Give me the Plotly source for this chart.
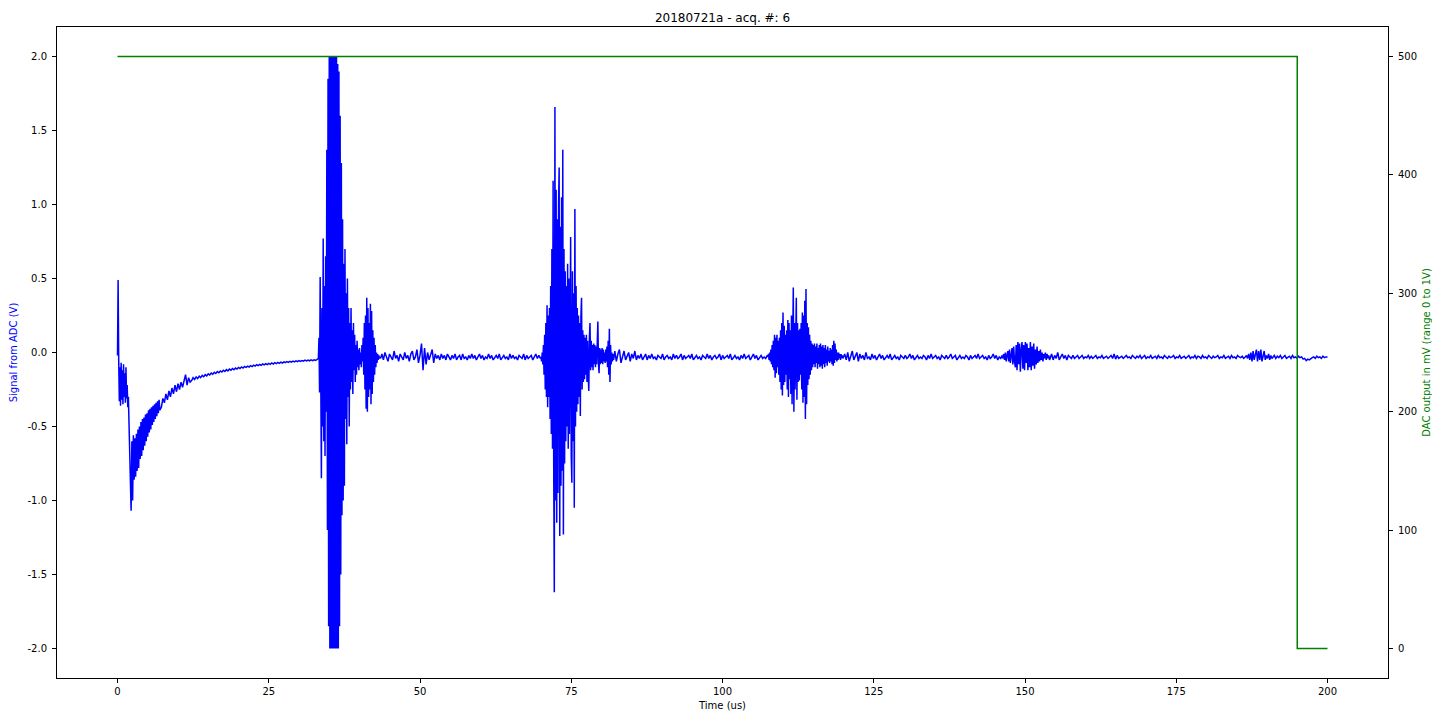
import numpy as np
import plotly.graph_objects as go

title_text = "20180721a - acq. #: 6"
x_ticks = [0, 25, 50, 75, 100, 125, 150, 175, 200]
adc_ticks = [-2.0, -1.5, -1.0, -0.5, 0.0, 0.5, 1.0, 1.5, 2.0]
dac_ticks = [0, 100, 200, 300, 400, 500]

# DAC output (mV)
dac_time = [0, 195, 195, 200]
dac_mv = [500, 500, 0, 0]

# ADC signal (V);
# samples are evenly spaced inside each (start, end) span in microseconds.
span_pulse = (0.0, 1.9)
adc_pulse = [-0.02, 0.49, -0.05, -0.33, -0.10, -0.36, -0.07, -0.32, -0.12, -0.35,
             -0.08, -0.30, -0.14, -0.34, -0.10, -0.31, -0.22, -0.37, -0.30, -0.45]

span_dip = (2.0, 7.0)
adc_dip = [-0.62, -0.80, -1.07, -0.60, -1.00, -0.56, -0.86, -0.58, -0.84, -0.55,
           -0.80, -0.52, -0.78, -0.50, -0.72, -0.47, -0.70, -0.45, -0.66, -0.44,
           -0.63, -0.42, -0.60, -0.41, -0.57, -0.39, -0.54, -0.38, -0.52, -0.37,
           -0.49, -0.36, -0.47, -0.35, -0.45, -0.34, -0.43, -0.33, -0.41, -0.32, -0.39]

span_recovery = (7.25, 12.0)
adc_recovery = [-0.37, -0.31, -0.34, -0.28, -0.32, -0.26, -0.30, -0.24, -0.28, -0.22,
                -0.265, -0.21, -0.25, -0.20, -0.235, -0.19, -0.15, -0.22, -0.17, -0.20]

span_settle = (12.25, 33.0)
adc_settle = [-0.190, -0.170, -0.182, -0.165, -0.176, -0.160, -0.170, -0.155, -0.164, -0.150,
              -0.158, -0.144, -0.152, -0.139, -0.147, -0.134, -0.142, -0.129, -0.137, -0.125,
              -0.132, -0.120, -0.128, -0.116, -0.124, -0.112, -0.120, -0.108, -0.116, -0.105,
              -0.112, -0.101, -0.108, -0.098, -0.105, -0.095, -0.101, -0.092, -0.098, -0.089,
              -0.095, -0.086, -0.092, -0.083, -0.089, -0.081, -0.087, -0.078, -0.084, -0.076,
              -0.082, -0.074, -0.080, -0.071, -0.078, -0.069, -0.075, -0.067, -0.073, -0.065,
              -0.071, -0.063, -0.069, -0.061, -0.067, -0.060, -0.065, -0.058, -0.063, -0.056,
              -0.062, -0.055, -0.060, -0.054, -0.059, -0.052, -0.057, -0.051, -0.056, -0.050,
              -0.055, -0.049, -0.053, -0.047]

span_echo1 = (33.2, 43.5)
adc_echo1 = [-0.04, 0.10, -0.27, 0.51, -0.20, -0.85, 0.30, -0.50, 0.77, -0.60,
             0.45, -0.70, 0.65, -0.40, 1.37, -1.20, 1.85, -1.85, 2.00, -2.00,
             2.00, -2.00, 2.00, -2.00, 2.00, -2.00, 2.00, -2.00, 2.00, -2.00,
             2.00, -2.00, 1.95, -2.00, 1.90, -1.85, 1.60, -1.50, 1.28, -1.10,
             0.90, -1.00, 0.60, -0.90, 0.70, -0.45, 0.40, -0.62, 0.50, -0.30,
             0.30, -0.50, 0.20, -0.25, 0.30, -0.20, 0.15, -0.28, 0.20, -0.12,
             0.12, -0.20, 0.05, -0.15, 0.08, -0.10, 0.02, -0.12, 0.03, -0.08,
             0.00, -0.10, 0.05, -0.06, 0.10, -0.15, 0.20, -0.25, 0.25, -0.38,
             0.37, -0.40, 0.30, -0.30, 0.20, -0.25, 0.33, -0.35, 0.28, -0.28,
             0.15, -0.20, 0.10, -0.15, 0.05, -0.10, 0.00, -0.07, -0.01, -0.05,
             -0.02, -0.04, -0.03, -0.04]

span_quiet1 = (43.7, 69.9)
adc_quiet1 = [-0.01, -0.05, 0.00, -0.04, -0.06, -0.01, -0.03, -0.05, 0.01, -0.04,
              -0.02, -0.06, -0.01, -0.03, -0.05, 0.00, -0.04, -0.02, -0.06, -0.01,
              0.01, -0.05, -0.03, 0.02, -0.07, -0.02, 0.06, -0.12, 0.03, -0.08,
              0.00, -0.05, -0.02, 0.02, -0.07, -0.01, -0.04, -0.02, -0.05, -0.01,
              -0.04, -0.02, -0.05, -0.01, -0.03, -0.05, -0.02, -0.04, -0.01, -0.05,
              -0.03, -0.02, -0.05, -0.01, -0.04, -0.03, -0.05, -0.02, -0.04, -0.01,
              -0.04, -0.02, -0.05, -0.03, -0.01, -0.04, -0.02, -0.05, -0.03, -0.04,
              -0.01, -0.04, -0.02, -0.05, -0.03, -0.02, -0.04, -0.01, -0.05, -0.03,
              -0.02, -0.04, -0.03, -0.05, -0.01, -0.04, -0.02, -0.04, -0.03, -0.05,
              -0.02, -0.03, -0.04, -0.01, -0.05, -0.02, -0.04, -0.03, -0.02, -0.05,
              -0.03, -0.01, -0.04, -0.02, -0.04]

span_echo2 = (70.0, 82.0)
adc_echo2 = [-0.03, -0.06, 0.00, -0.08, 0.05, -0.15, 0.12, -0.25, 0.20, -0.30,
             0.32, -0.37, 0.25, -0.30, 0.30, -0.45, 0.45, -0.55, 0.70, -0.65,
             1.16, -0.76, -1.62, 1.66, -1.00, 1.10, -1.15, 0.90, -0.95, 1.00,
             1.25, -1.24, 0.85, -0.90, 1.05, -0.80, 1.37, -1.23, 0.70, -0.75,
             0.55, -0.60, 0.45, -0.50, 0.60, -0.65, 0.50, -0.55, 0.60, 0.78,
             -0.70, -0.88, 0.55, -0.60, 0.40, -1.05, 0.97, -0.50, 0.45, -0.40,
             0.30, -0.35, 0.25, -0.30, 0.20, -0.43, 0.25, 0.37, -0.25, 0.15,
             -0.20, 0.12, -0.18, 0.10, -0.15, 0.12, -0.20, 0.08, -0.15, -0.26,
             0.10, 0.20, -0.12, 0.08, -0.10, 0.05, -0.12, 0.06, -0.08, 0.05,
             -0.10, 0.04, -0.08, 0.10, 0.21, -0.08, -0.14, 0.03, -0.08, 0.02,
             -0.07, 0.03, -0.08, 0.02, -0.06, 0.00, -0.07, 0.02, -0.06, 0.04,
             -0.10, 0.08, -0.15, 0.16, -0.20, 0.05, -0.08, 0.00, -0.06, -0.01,
             -0.05]

span_quiet2 = (82.2, 107.4)
adc_quiet2 = [0.01, -0.06, -0.01, 0.02, -0.07, -0.02, 0.01, -0.05, -0.03, 0.00,
              -0.06, -0.01, -0.04, 0.01, -0.05, -0.02, -0.04, -0.01, -0.05, -0.03,
              -0.01, -0.05, -0.02, -0.04, -0.01, -0.04, -0.03, -0.05, -0.02, -0.03,
              -0.04, -0.01, -0.05, -0.03, -0.02, -0.04, -0.03, -0.05, -0.01, -0.04,
              -0.02, -0.04, -0.03, -0.01, -0.05, -0.02, -0.04, -0.03, -0.02, -0.04,
              -0.01, -0.05, -0.03, -0.02, -0.04, -0.03, -0.05, -0.02, -0.03, -0.04,
              -0.01, -0.04, -0.02, -0.05, -0.03, -0.02, -0.04, -0.03, -0.01, -0.05,
              -0.02, -0.04, -0.03, -0.02, -0.04, -0.01, -0.05, -0.03, -0.02, -0.04,
              -0.03, -0.05, -0.02, -0.04, -0.01, -0.04, -0.03, -0.02, -0.05, -0.03,
              -0.01, -0.04, -0.02, -0.05, -0.03, -0.02, -0.04, -0.03, -0.04, -0.02]

span_echo3 = (107.5, 120.0)
adc_echo3 = [-0.03, -0.01, -0.05, 0.00, -0.06, 0.02, -0.08, 0.05, -0.10, 0.08,
             -0.12, 0.12, -0.17, 0.10, -0.14, 0.12, -0.10, 0.08, -0.15, 0.10,
             -0.20, 0.15, -0.25, 0.20, -0.29, 0.27, -0.22, 0.18, -0.20, 0.12,
             -0.15, 0.15, -0.25, 0.22, -0.30, 0.20, -0.18, 0.15, -0.28, 0.25,
             -0.35, 0.30, 0.44, -0.40, 0.20, -0.25, 0.25, 0.37, -0.32, 0.20,
             -0.20, 0.15, -0.19, 0.16, -0.15, 0.20, -0.25, 0.27, -0.34, 0.25,
             -0.30, 0.35, -0.45, 0.43, -0.35, 0.20, -0.22, 0.17, -0.18, 0.12,
             -0.15, 0.08, -0.12, 0.06, -0.10, 0.05, -0.08, 0.06, -0.10, 0.04,
             -0.07, 0.06, -0.11, 0.03, -0.08, 0.05, -0.10, 0.06, -0.09, 0.04,
             -0.11, 0.05, -0.08, 0.03, -0.10, 0.05, -0.07, 0.02, -0.09, 0.04,
             -0.06, 0.01, -0.07, 0.03, -0.06, 0.02, -0.08, 0.05, -0.09, 0.08,
             -0.07, 0.06, -0.05, 0.02, -0.06, 0.00, -0.05, 0.00, -0.04, -0.01,
             -0.05, -0.01, -0.04, -0.02, -0.04, -0.03]

span_quiet3 = (120.2, 146.0)
adc_quiet3 = [-0.01, -0.05, 0.00, -0.06, -0.02, 0.01, -0.05, -0.03, 0.00, -0.06,
              -0.01, -0.04, -0.02, -0.05, 0.00, -0.04, -0.03, -0.05, -0.01, -0.04,
              -0.02, -0.05, -0.03, -0.01, -0.04, -0.02, -0.05, -0.03, -0.02, -0.04,
              -0.01, -0.05, -0.03, -0.02, -0.04, -0.03, -0.05, -0.02, -0.03, -0.04,
              -0.02, -0.04, -0.03, -0.01, -0.04, -0.02, -0.05, -0.03, -0.02, -0.04,
              -0.03, -0.04, -0.02, -0.03, -0.05, -0.02, -0.04, -0.01, -0.04, -0.03,
              -0.02, -0.04, -0.03, -0.05, -0.02, -0.03, -0.04, -0.02, -0.04, -0.03,
              -0.01, -0.04, -0.03, -0.02, -0.05, -0.03, -0.02, -0.04, -0.03, -0.04,
              -0.02, -0.03, -0.05, -0.02, -0.04, -0.03, -0.02, -0.04, -0.01, -0.04,
              -0.03, -0.02, -0.04, -0.03, -0.05, -0.02, -0.04, -0.03, -0.01, -0.04,
              -0.02, -0.05, -0.03, -0.04]

span_echo4 = (146.2, 154.2)
adc_echo4 = [-0.02, -0.04, -0.01, -0.05, 0.00, -0.06, -0.02, 0.01, -0.06, 0.02,
             -0.07, 0.00, 0.03, -0.08, 0.04, -0.06, -0.10, 0.05, -0.12, 0.07,
             -0.08, 0.06, -0.13, 0.02, 0.07, -0.11, 0.05, -0.12, 0.07, -0.07,
             0.06, -0.12, 0.03, -0.10, 0.07, -0.12, 0.04, -0.09, 0.06, -0.11,
             0.02, -0.08, 0.04, -0.07, 0.01, -0.06, 0.02, -0.05, 0.00, -0.06,
             -0.01, -0.04, 0.00, -0.05, -0.01, -0.04, -0.02, -0.05, -0.03]

span_quiet4 = (154.4, 186.4)
adc_quiet4 = [-0.01, -0.05, -0.02, -0.04, 0.00, -0.05, -0.03, -0.01, -0.04, -0.02,
              -0.05, -0.02, -0.03, -0.04, -0.02, -0.04, -0.03, -0.02, -0.04, -0.03,
              -0.02, -0.04, -0.03, -0.035, -0.02, -0.04, -0.025, -0.04, -0.03, -0.02,
              -0.04, -0.03, -0.035, -0.02, -0.04, -0.03, -0.025, -0.04, -0.03, -0.02,
              -0.04, -0.01, -0.045, -0.02, -0.04, -0.03, -0.025, -0.04, -0.03, -0.02,
              -0.035, -0.03, -0.04, -0.02, -0.03, -0.04, -0.025, -0.035, -0.02, -0.04,
              -0.03, -0.02, -0.04, -0.03, -0.035, -0.02, -0.04, -0.03, -0.025, -0.04,
              -0.02, -0.035, -0.03, -0.04, -0.02, -0.03, -0.04, -0.025, -0.035, -0.03,
              -0.02, -0.04, -0.03, -0.035, -0.02, -0.04, -0.03, -0.025, -0.04, -0.03,
              -0.02, -0.04, -0.03, -0.035, -0.02, -0.04, -0.025, -0.03, -0.04, -0.02,
              -0.035, -0.03, -0.04, -0.02, -0.03, -0.04, -0.025, -0.035, -0.03, -0.02,
              -0.04, -0.03, -0.035, -0.02, -0.04, -0.03, -0.025, -0.04, -0.02, -0.035,
              -0.03, -0.04, -0.02, -0.03, -0.035, -0.025, -0.04, -0.03]

span_echo5 = (186.6, 191.0)
adc_echo5 = [-0.02, -0.04, -0.01, -0.05, 0.00, -0.06, 0.01, -0.05, -0.02, 0.02,
             -0.06, 0.01, -0.05, 0.02, -0.06, -0.01, 0.01, -0.05, -0.02, -0.04,
             -0.01, -0.05, -0.02, -0.04, -0.03]

span_tail = (191.2, 200.0)
adc_tail = [-0.02, -0.04, -0.025, -0.035, -0.02, -0.04, -0.03, -0.02, -0.04, -0.03,
            -0.025, -0.04, -0.02, -0.035, -0.03, -0.04, -0.025, -0.035, -0.03, -0.045,
            -0.04, -0.055, -0.045, -0.05, -0.04, -0.035, -0.03, -0.04, -0.025, -0.035,
            -0.03, -0.04, -0.025, -0.035, -0.03, -0.03]

segments = [
    (span_pulse, adc_pulse), (span_dip, adc_dip), (span_recovery, adc_recovery),
    (span_settle, adc_settle), (span_echo1, adc_echo1), (span_quiet1, adc_quiet1),
    (span_echo2, adc_echo2), (span_quiet2, adc_quiet2), (span_echo3, adc_echo3),
    (span_quiet3, adc_quiet3), (span_echo4, adc_echo4), (span_quiet4, adc_quiet4),
    (span_echo5, adc_echo5), (span_tail, adc_tail),
]

adc_time = np.concatenate([np.linspace(s[0], s[1], len(v)) for s, v in segments])
adc_volt = np.concatenate([np.array(v, dtype=float) for s, v in segments])

FONT = "DejaVu Sans"

fig = go.Figure()
fig.add_trace(go.Scatter(x=adc_time, y=adc_volt, mode="lines",
                         line=dict(color="#0000ff", width=1.5), yaxis="y",
                         showlegend=False))
fig.add_trace(go.Scatter(x=dac_time, y=dac_mv, mode="lines",
                         line=dict(color="#008000", width=1.5), yaxis="y2",
                         showlegend=False))

axis_common = dict(showline=True, linecolor="black", linewidth=1,
                   ticks="outside", ticklen=4, tickwidth=1, tickcolor="black",
                   showgrid=False, zeroline=False,
                   tickfont=dict(family=FONT, size=10, color="black"))

# the page body adds an 8 px offset, so the figure is 8 px smaller and shifted margins
fig.update_layout(
    width=1432, height=712,
    margin=dict(l=49, r=52, t=19, b=42, autoexpand=False),
    paper_bgcolor="white", plot_bgcolor="white",
    font=dict(family=FONT, size=10, color="black"),
    title=dict(text=title_text, x=0.5, xref="paper", xanchor="center",
               y=1, yref="paper", yanchor="bottom", pad=dict(b=5),
               font=dict(family=FONT, size=12, color="black")),
    xaxis=dict(range=[-10, 210], tickvals=x_ticks, mirror=True, ticklabelstandoff=0,
               title=dict(text="Time (us)", standoff=5,
                          font=dict(family=FONT, size=10, color="black")),
               **axis_common),
    yaxis=dict(range=[-2.2, 2.2], tickvals=adc_ticks, ticklabelstandoff=3,
               ticktext=[f"{t:.1f}" for t in adc_ticks],
               title=dict(text="Signal from ADC (V)", standoff=8,
                          font=dict(family=FONT, size=10, color="#0000ff")),
               **axis_common),
    yaxis2=dict(range=[-25, 525], tickvals=dac_ticks, overlaying="y", side="right",
                ticklabelstandoff=3,
                title=dict(text="DAC output in mV (range 0 to 1V)", standoff=6,
                           font=dict(family=FONT, size=10, color="#008000")),
                **axis_common),
)

fig.write_html("out.html")
